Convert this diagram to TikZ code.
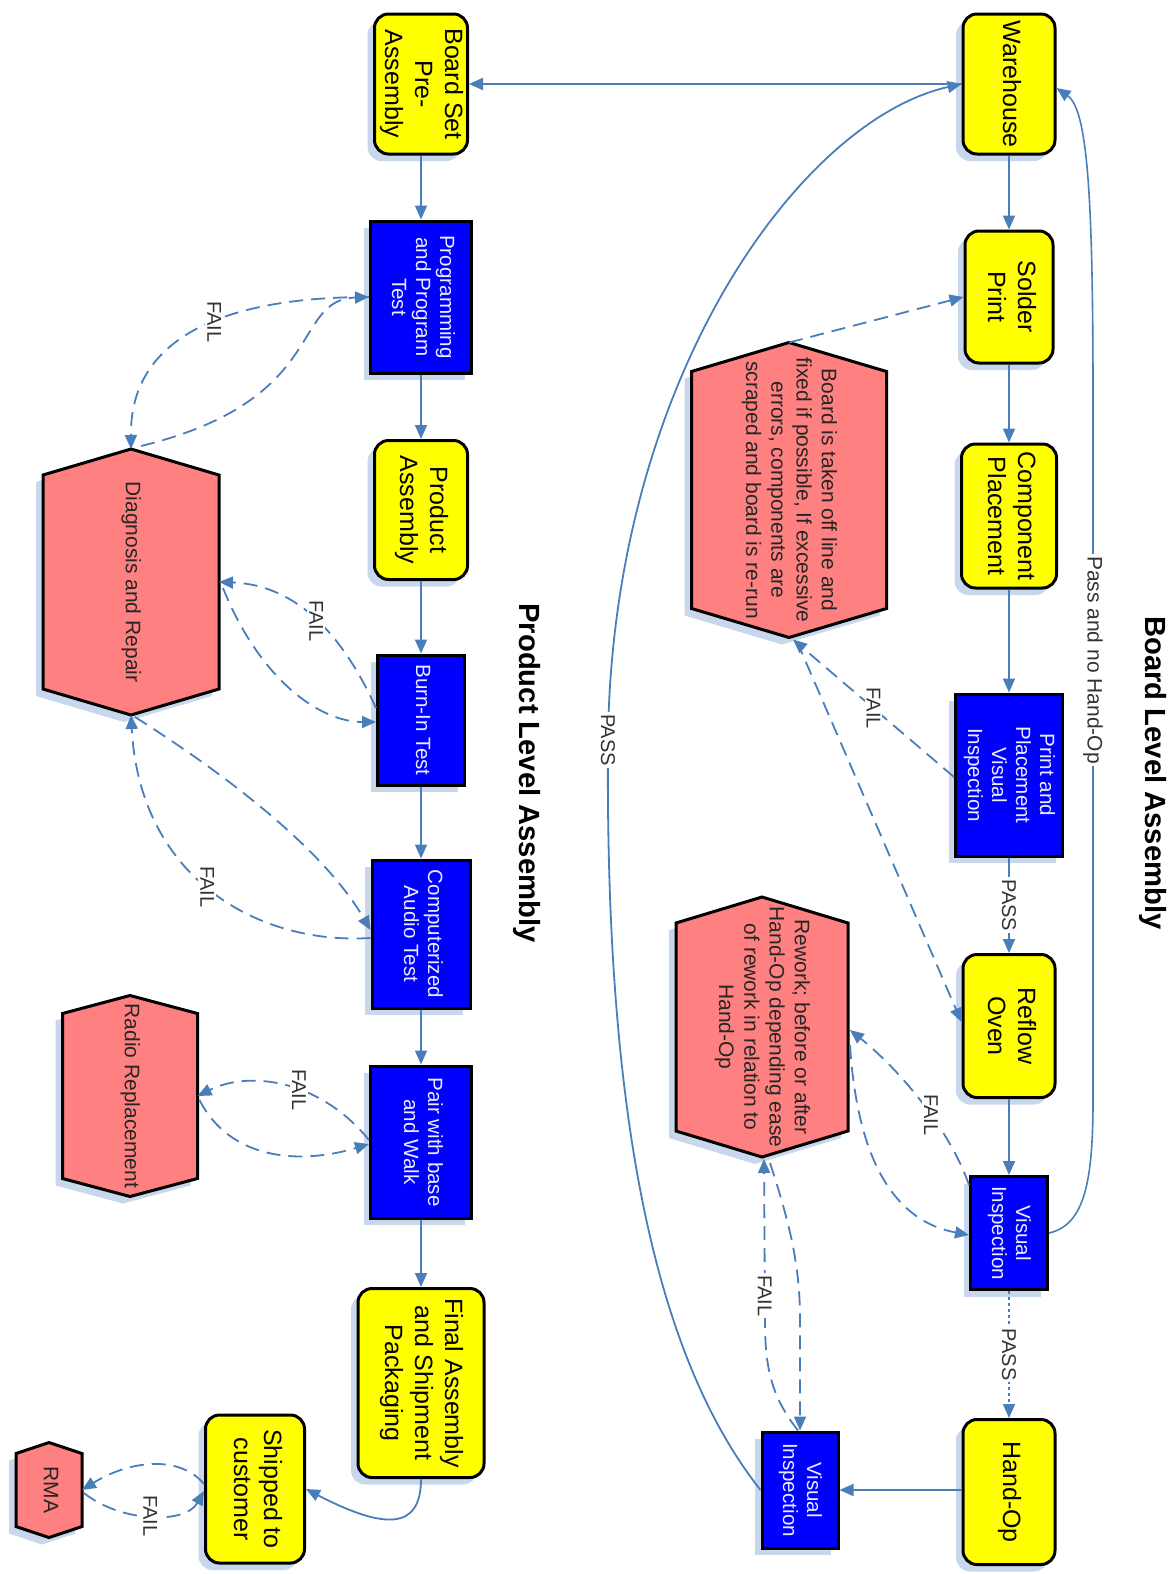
\documentclass[tikz,border=0pt]{standalone}
\usepackage{fontspec}
\setmainfont{Liberation Sans}
\usetikzlibrary{arrows.meta,shadows,backgrounds,calc}
\definecolor{lnblue}{RGB}{74,126,187}
\definecolor{shblue}{RGB}{200,215,236}
\definecolor{salmonc}{RGB}{255,128,128}
\definecolor{boxblue}{RGB}{0,0,255}
\definecolor{boxyellow}{RGB}{255,255,0}
\definecolor{paletxt}{RGB}{235,235,255}
\newcommand{\rtxt}[1]{\rotatebox{-90}{\begin{tabular}{@{}c@{}}#1\end{tabular}}}
\newcommand{\yfont}{\fontsize{12.5}{15}\selectfont}
\newcommand{\bfnt}{\fontsize{10.3}{12}\selectfont}
\newcommand{\hfnt}{\fontsize{10.5}{12.6}\selectfont}
\newcommand{\lfnt}{\fontsize{10}{12}\selectfont}
\newcommand{\tfnt}{\fontsize{14.6}{17}\selectfont\bfseries}
% name, cx, cy, half width, half height, corner drop (all px)
\newcommand{\hexa}[6]{%
  \begin{scope}[on background layer]
    \fill[shblue,shift={(-7,7)}] (#2,#3-#5) -- (#2+#4,#3-#5+#6) -- (#2+#4,#3+#5-#6) -- (#2,#3+#5) -- (#2-#4,#3+#5-#6) -- (#2-#4,#3-#5+#6) -- cycle;
    \draw[fill=salmonc,draw=black,line width=1.5pt,line join=miter] (#2,#3-#5) -- (#2+#4,#3-#5+#6) -- (#2+#4,#3+#5-#6) -- (#2,#3+#5) -- (#2-#4,#3+#5-#6) -- (#2-#4,#3-#5+#6) -- cycle;
  \end{scope}
  \coordinate (#1-t) at (#2,#3-#5);
  \coordinate (#1-b) at (#2,#3+#5);
  \coordinate (#1-e) at (#2+#4,#3);
  \coordinate (#1-w) at (#2-#4,#3);
}
\begin{document}
\begin{tikzpicture}[x=0.5pt,y=-0.5pt,
  box/.style={draw=black, line width=1.5pt, inner sep=0pt,
    drop shadow={shadow xshift=-3.5pt, shadow yshift=-3.5pt, fill=shblue, opacity=1}},
  ybox/.style={box, fill=boxyellow, rounded corners=7pt, font=\yfont},
  bbox/.style={box, fill=boxblue, text=paletxt, font=\bfnt},
  htext/.style={font=\hfnt, text=black!85, inner sep=0pt},
  flow/.style={draw=lnblue, line width=0.9pt, -{Triangle[length=7pt,width=6pt]}},
  fail/.style={flow, dash pattern=on 7pt off 4pt},
  dotflow/.style={flow, dash pattern=on 1.5pt off 1.5pt},
  lbl/.style={font=\lfnt, rotate=-90, fill=white, inner sep=1pt, text=black!80},
  ttl/.style={font=\tfnt, rotate=-90, inner sep=0pt}
]
\useasboundingbox (0,0) rectangle (1175,1574);

% ---------- titles
\node[ttl] (t1) at (1153,773) {Board Level Assembly};
\node[ttl] (t2) at (527,773) {Product Level Assembly};

% ---------- board level boxes
\node[ybox, minimum width=46pt, minimum height=70pt] (wh) at (1009,84) {\rtxt{Warehouse}};
\node[ybox, minimum width=44pt, minimum height=66pt] (sp) at (1009,297) {\rtxt{Solder\\Print}};
\node[ybox, minimum width=47.5pt, minimum height=72pt] (cp) at (1009,516) {\rtxt{Component\\Placement}};
\node[bbox, minimum width=53.5pt, minimum height=81pt] (ppvi) at (1009,775) {\rtxt{Print and\\Placement\\Visual\\Inspection}};
\node[ybox, minimum width=46pt, minimum height=71.5pt] (ro) at (1009,1026) {\rtxt{Reflow\\Oven}};
\node[bbox, minimum width=38.5pt, minimum height=56.5pt] (vi) at (1009,1233) {\rtxt{Visual\\Inspection}};
\node[ybox, minimum width=46pt, minimum height=72.5pt] (ho) at (1009,1492) {\rtxt{Hand-Op}};
\node[bbox, minimum width=38pt, minimum height=58pt] (vi2) at (800,1490) {\rtxt{Visual\\Inspection}};

% ---------- product level boxes
\node[ybox, minimum width=46.5pt, minimum height=70pt] (bs) at (421,84) {\rtxt{Board Set\\Pre-\\Assembly}};
\node[bbox, minimum width=50.5pt, minimum height=76pt] (pt) at (421,297) {\rtxt{Programming\\and Program\\Test}};
\node[ybox, minimum width=46.5pt, minimum height=69.5pt] (pa) at (421,510) {\rtxt{Product\\Assembly}};
\node[bbox, minimum width=43.5pt, minimum height=65pt] (bi) at (421,720) {\rtxt{Burn-In Test}};
\node[bbox, minimum width=49pt, minimum height=74pt] (ca) at (421,934) {\rtxt{Computerized\\Audio Test}};
\node[bbox, minimum width=50.5pt, minimum height=76pt] (pw) at (421,1142) {\rtxt{Pair with base\\and Walk}};
\node[ybox, minimum width=63pt, minimum height=94.5pt] (fa) at (421,1383) {\rtxt{Final Assembly\\and Shipment\\Packaging}};
\node[ybox, minimum width=49.5pt, minimum height=74pt] (sc) at (255,1489) {\rtxt{Shipped to\\customer}};

% ---------- hexagons
\hexa{rep}{789}{490}{97.5}{147.5}{29}
\node[htext] (reptx) at (789,490) {\rtxt{Board is taken off line and\\fixed if possible, If excessive\\errors, components are\\scraped and board is re-run}};
\hexa{rew}{762}{1027}{86}{130}{26}
\node[htext] (rewtx) at (762,1027) {\rtxt{Rework; before or after\\Hand-Op depending ease\\of rework in relation to\\Hand-Op}};
\hexa{dg}{131}{582}{88}{133}{26}
\node[htext] (dgtx) at (131,582) {\rtxt{Diagnosis and Repair}};
\hexa{rr}{130}{1096}{67.5}{100.5}{18}
\node[htext] (rrtx) at (130,1096) {\rtxt{Radio Replacement}};
\hexa{rma}{49}{1490}{33}{47.5}{11}
\node[htext] (rmatx) at (49,1490) {\rtxt{RMA}};

% ---------- board level flow
\draw[flow] (wh.south) -- (sp.north);
\draw[flow] (sp.south) -- (cp.north);
\draw[flow] (cp.south) -- (ppvi.north);
\draw[flow] (ppvi.south) -- node[lbl] {PASS} (ro.north);
\draw[flow] (ro.south) -- (vi.north);
\draw[dotflow] (vi.south) -- node[lbl] {PASS} (ho.north);
\draw[flow] (vi2.east -| ho.west) -- (vi2.east);
\draw[flow] (vi2.west) .. controls (650,1350) and (605,1100) .. (608,740) node[lbl] {PASS}
   .. controls (612,380) and (800,120) .. (wh.west);
\draw[flow, line width=0.8pt] (vi.east) .. controls (1085,1225) and (1093,1180) .. (1093,1100)
   -- (1093,660) node[lbl, font=\hfnt] {Pass and no Hand-Op}
   -- (1093,400) .. controls (1093,200) and (1088,110) .. ([yshift=-2pt]wh.east);
\draw[flow] (wh.west) -- (bs.east);

% repair loops (board)
\draw[fail] ([yshift=-1pt]ppvi.west) -- node[lbl] {FAIL} ($(rep-b)+(4,2)$);
\draw[fail] ($(rep-b)+(8,4)$) -- ([yshift=2pt]ro.west);
\draw[fail] (rep-t) -- (sp.west);
\draw[fail] ([yshift=24pt]vi.west) .. controls (950,1130) and (900,1070) .. node[lbl, pos=0.42] {FAIL} ($(rew-e)+(2,3)$);
\draw[fail] ($(rew-e)+(2,18)$) .. controls (858,1170) and (900,1222) .. ([yshift=-1pt]vi.west);
\draw[fail] ([xshift=-1pt]vi2.north) .. controls (770,1395) and (765,1365) .. (765,1320)
   -- node[lbl, pos=0.15] {FAIL} ($(rew-b)+(2,2)$);
\draw[fail] ($(rew-b)+(8,6)$) .. controls (792,1230) and (800,1270) .. (800,1320) -- (vi2.north);

% ---------- product level flow
\draw[flow] (bs.south) -- (pt.north);
\draw[flow] (pt.south) -- (pa.north);
\draw[flow] (pa.south) -- (bi.north);
\draw[flow] (bi.south) -- (ca.north);
\draw[flow] (ca.south) -- (pw.north);
\draw[flow] (pw.south) -- (fa.north);
\draw[flow] (fa.south) .. controls (421,1530) and (385,1530) .. (sc.east);

\draw[fail] (pt.west) .. controls (260,297) and (130,320) .. node[lbl, pos=0.48] {FAIL} (dg-t);
\draw[fail] ($(dg-t)+(10,-3)$) .. controls (330,400) and (290,300) .. (pt.west);
\draw[fail] ([yshift=6pt]bi.west) .. controls (345,640) and (300,585) .. node[lbl, pos=0.5] {FAIL} (dg-e);
\draw[fail] ($(dg-e)+(4,6)$) .. controls (260,680) and (320,722) .. ([yshift=-1pt]bi.west);
\draw[fail] ([yshift=-2pt]ca.west) .. controls (260,945) and (140,880) .. node[lbl, pos=0.52] {FAIL} (dg-b);
\draw[fail] ($(dg-b)+(4,2)$) .. controls (250,790) and (330,860) .. ([yshift=2pt]ca.west);
\draw[fail] ([yshift=1pt]pw.west) .. controls (320,1080) and (250,1070) .. node[lbl, pos=0.42] {FAIL} (rr-e);
\draw[fail] ($(rr-e)+(2,4)$) .. controls (230,1160) and (300,1165) .. ([yshift=-1pt]pw.west);
\draw[fail] ([yshift=2.5pt]sc.west) .. controls (180,1455) and (130,1460) .. (rma-e);
\draw[fail] ($(rma-e)+(2,3)$) .. controls (120,1522) and (185,1525) .. node[lbl, pos=0.5] {FAIL} ([yshift=-1pt]sc.west);
\end{tikzpicture}
\end{document}
